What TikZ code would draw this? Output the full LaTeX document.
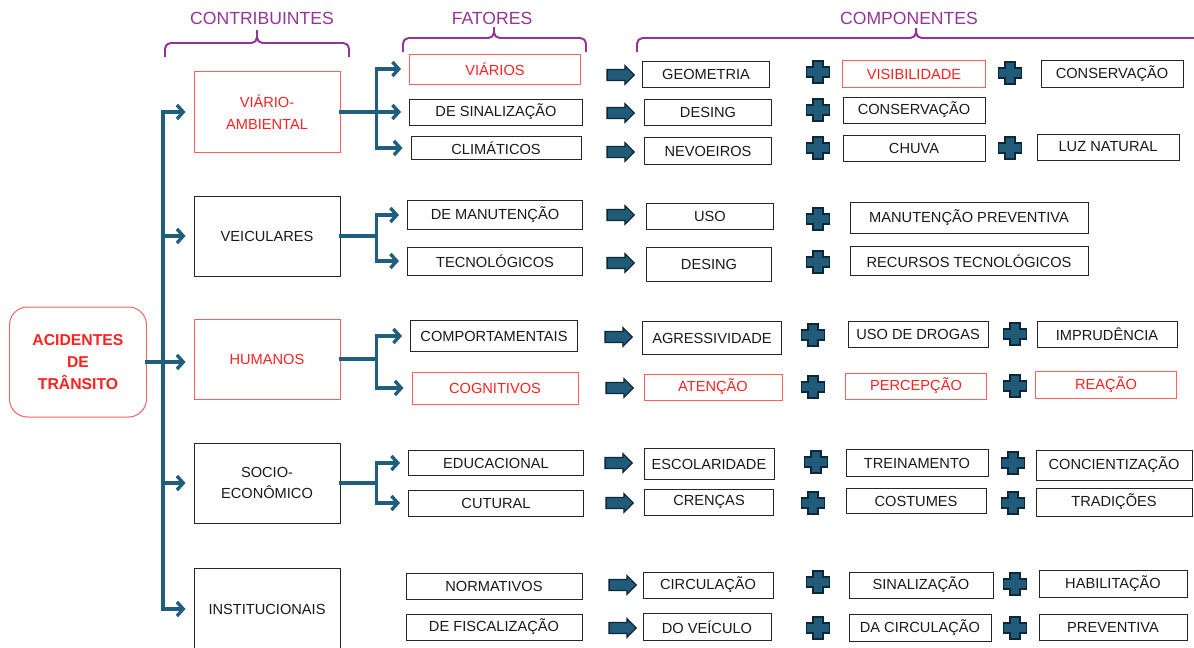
\documentclass[tikz,border=0pt]{standalone}
\usepackage{fontspec}
\setmainfont{Liberation Sans}
\usepackage{xcolor}
\usetikzlibrary{arrows.meta, positioning, shapes.arrows}

\definecolor{linkblue}{RGB}{31,95,125}
\definecolor{iconblue}{RGB}{32,92,122}
\definecolor{icondark}{RGB}{14,38,54}
\definecolor{headpurple}{RGB}{148,52,150}
\definecolor{hotred}{RGB}{255,32,32}
\definecolor{hotline}{RGB}{255,95,95}

\begin{document}
\begin{tikzpicture}[x=0.025cm, y=-0.025cm,
    box/.style={draw=black!85, line width=0.7pt, inner sep=1pt, align=center,
        text=black!90, font=\fontsize{10.4}{15.5}\selectfont},
    hot/.style={draw=hotline, text=hotred},
    boxsize/.style 2 args={minimum width=#1*0.025cm, minimum height=#2*0.025cm},
    head/.style={text=headpurple, font=\fontsize{12.5}{15}\selectfont},
    brace/.style={draw=headpurple, line width=1.4pt, rounded corners=4pt},
    link/.style={draw=linkblue, line width=2.4pt, line cap=rect,
        -{Straight Barb[length=4.5pt, width=10pt]}, shorten >=0.2cm},
    blockarrow/.style={single arrow, fill=iconblue, draw=icondark, line width=0.9pt,
        minimum height=0.68cm, minimum width=0.46cm, inner sep=0.12cm,
        single arrow head extend=0.1cm},
    iconline/.style={fill=iconblue, draw=icondark, line width=1.1pt},
    plusicon/.pic={\draw[iconline] (-5,-11) -- (5,-11) -- (5,-5) -- (11.5,-5) -- (11.5,5)
        -- (5,5) -- (5,11) -- (-5,11) -- (-5,5) -- (-11.5,5) -- (-11.5,-5) -- (-5,-5) -- cycle;}
]
    \useasboundingbox (0,0) rectangle (1194,647);

    % Headers
    \node[head] (hcontrib) at (262,18) {CONTRIBUINTES};
    \node[head] (hfator) at (492,18) {FATORES};
    \node[head] (hcomp) at (909,18) {COMPONENTES};
    \draw[brace] (165,57) -- (165,43) -- (257,43) -- (257,30);
    \draw[brace] (349,57) -- (349,43) -- (257,43) -- (257,30);
    \draw[brace] (403,52) -- (403,38) -- (494,38) -- (494,27);
    \draw[brace] (586,52) -- (586,38) -- (494,38) -- (494,27);
    \draw[brace] (637,52) -- (637,38) -- (916,38) -- (916,28);
    \draw[brace] (1210,38) -- (916,38) -- (916,28);

    % Root
    \node[box, hot, boxsize={137}{110}, rounded corners=0.45cm,
        font=\fontsize{11.2}{15.5}\selectfont\bfseries] (acid) at (78,362) {ACIDENTES\\DE\\TRÂNSITO};

    % Contribuintes
    \node[box, hot, boxsize={146}{81}] (via) at (267,112) {VIÁRIO-\\AMBIENTAL};
    \node[box, boxsize={146}{80}] (veic) at (267,236) {VEICULARES};
    \node[box, hot, boxsize={146}{80}] (hum) at (267,359) {HUMANOS};
    \node[box, boxsize={146}{80}] (socio) at (267,483) {SOCIO-\\ECONÔMICO};
    \node[box, boxsize={146}{82}] (inst) at (267,609) {INSTITUCIONAIS};

    % Trunk
    \coordinate (trunk) at (163,362);
    \draw[link, {Straight Barb[length=4.5pt, width=10pt]}-{Straight Barb[length=4.5pt, width=10pt]},
        shorten <=0.2cm] (via.west) -- (via.west -| trunk) -- (inst.west -| trunk) -- (inst.west);
    \draw[link] (veic.west -| trunk) -- (veic.west);
    \draw[link] (socio.west -| trunk) -- (socio.west);
    \draw[link] (acid.east) -- (acid.east -| hum.west);

    % Fatores
    \node[box, hot, boxsize={171}{30}] (f11) at (495,69) {VIÁRIOS};
    \node[box, boxsize={173}{26}] (f12) at (496,112) {DE SINALIZAÇÃO};
    \node[box, boxsize={170}{23}] (f13) at (496,148) {CLIMÁTICOS};
    \node[box, boxsize={175}{29}] (f21) at (495,215) {DE MANUTENÇÃO};
    \node[box, boxsize={175}{28}] (f22) at (495,261) {TECNOLÓGICOS};
    \node[box, boxsize={167}{31}] (f31) at (494,336) {COMPORTAMENTAIS};
    \node[box, hot, boxsize={166}{32}] (f32) at (495,388) {COGNITIVOS};
    \node[box, boxsize={175}{25}] (f41) at (496,463) {EDUCACIONAL};
    \node[box, boxsize={175}{26}] (f42) at (496,503) {CUTURAL};
    \node[box, boxsize={176}{26}] (f51) at (494,586) {NORMATIVOS};
    \node[box, boxsize={176}{26}] (f52) at (494,627) {DE FISCALIZAÇÃO};

    % Branches
    \draw[link] (via.east) -- ++(0.9cm,0) |- (f11.west);
    \draw[link] (via.east) -- ++(0.9cm,0) |- (f12.west);
    \draw[link] (via.east) -- ++(0.9cm,0) |- (f13.west);
    \draw[link] (veic.east) -- ++(0.9cm,0) |- (f21.west);
    \draw[link] (veic.east) -- ++(0.9cm,0) |- (f22.west);
    \draw[link] (hum.east) -- ++(0.9cm,0) |- (f31.west);
    \draw[link] (hum.east) -- ++(0.9cm,0) |- (f32.west);
    \draw[link] (socio.east) -- ++(0.9cm,0) |- (f41.west);
    \draw[link] (socio.east) -- ++(0.9cm,0) |- (f42.west);

    % Block arrows
    \node[blockarrow] (a11) at (618,75) {};
    \node[blockarrow] (a12) at (618,113) {};
    \node[blockarrow] (a13) at (618,152) {};
    \node[blockarrow] (a21) at (618,215) {};
    \node[blockarrow] (a22) at (618,263) {};
    \node[blockarrow] (a31) at (616,337) {};
    \node[blockarrow] (a32) at (617,388) {};
    \node[blockarrow] (a41) at (616,463) {};
    \node[blockarrow] (a42) at (617,503) {};
    \node[blockarrow] (a51) at (620,585) {};
    \node[blockarrow] (a52) at (620,628) {};

    % Componentes (1)
    \node[box, boxsize={127}{26}] (c11) at (706,74) {GEOMETRIA};
    \node[box, boxsize={127}{26}] (c12) at (708,112) {DESING};
    \node[box, boxsize={127}{27}] (c13) at (708,151) {NEVOEIROS};
    \node[box, boxsize={127}{26}] (c21) at (710,216) {USO};
    \node[box, boxsize={125}{34}] (c22) at (709,264) {DESING};
    \node[box, boxsize={139}{33}] (c31) at (712,338) {AGRESSIVIDADE};
    \node[box, hot, boxsize={138}{26}] (c32) at (713,387) {ATENÇÃO};
    \node[box, boxsize={130}{31}] (c41) at (709,464) {ESCOLARIDADE};
    \node[box, boxsize={129}{26}] (c42) at (709,502) {CRENÇAS};
    \node[box, boxsize={130}{26}] (c51) at (708,585) {CIRCULAÇÃO};
    \node[box, boxsize={128}{27}] (c52) at (707,627) {DO VEÍCULO};

    % Plus (1)
    \pic (p11) at (818,72) {plusicon};
    \pic (p12) at (818,110) {plusicon};
    \pic (p13) at (818,148) {plusicon};
    \pic (p21) at (818,219) {plusicon};
    \pic (p22) at (818,262) {plusicon};
    \pic (p31) at (813,335) {plusicon};
    \pic (p32) at (813,387) {plusicon};
    \pic (p41) at (816,462) {plusicon};
    \pic (p42) at (813,503) {plusicon};
    \pic (p51) at (818,582) {plusicon};
    \pic (p52) at (818,628) {plusicon};

    % Componentes (2)
    \node[box, hot, boxsize={143}{27}] (d11) at (914,74) {VISIBILIDADE};
    \node[box, boxsize={142}{26}] (d12) at (914,110) {CONSERVAÇÃO};
    \node[box, boxsize={142}{26}] (d13) at (914,148) {CHUVA};
    \node[box, boxsize={238}{31}] (d21) at (969,218) {MANUTENÇÃO PREVENTIVA};
    \node[box, boxsize={238}{29}] (d22) at (969,261) {RECURSOS TECNOLÓGICOS};
    \node[box, boxsize={140}{26}] (d31) at (918,334) {USO DE DROGAS};
    \node[box, hot, boxsize={141}{26}] (d32) at (916,386) {PERCEPÇÃO};
    \node[box, boxsize={142}{27}] (d41) at (917,463) {TREINAMENTO};
    \node[box, boxsize={140}{25}] (d42) at (916,501) {COSTUMES};
    \node[box, boxsize={144}{26}] (d51) at (921,585) {SINALIZAÇÃO};
    \node[box, boxsize={142}{27}] (d52) at (920,628) {DA CIRCULAÇÃO};

    % Plus (2)
    \pic (q11) at (1010,73) {plusicon};
    \pic (q13) at (1010,148) {plusicon};
    \pic (q31) at (1015,334) {plusicon};
    \pic (q32) at (1015,386) {plusicon};
    \pic (q41) at (1013,463) {plusicon};
    \pic (q42) at (1013,503) {plusicon};
    \pic (q51) at (1015,584) {plusicon};
    \pic (q52) at (1015,628) {plusicon};

    % Componentes (3)
    \node[box, boxsize={142}{27}] (e11) at (1112,74) {CONSERVAÇÃO};
    \node[box, boxsize={142}{26}] (e13) at (1108,147) {LUZ NATURAL};
    \node[box, boxsize={140}{26}] (e31) at (1107,334) {IMPRUDÊNCIA};
    \node[box, hot, boxsize={141}{27}] (e32) at (1106,385) {REAÇÃO};
    \node[box, boxsize={156}{30}] (e41) at (1114,465) {CONCIENTIZAÇÃO};
    \node[box, boxsize={156}{28}] (e42) at (1114,502) {TRADIÇÕES};
    \node[box, boxsize={148}{27}] (e51) at (1113,584) {HABILITAÇÃO};
    \node[box, boxsize={148}{26}] (e52) at (1113,627) {PREVENTIVA};
\end{tikzpicture}
\end{document}
